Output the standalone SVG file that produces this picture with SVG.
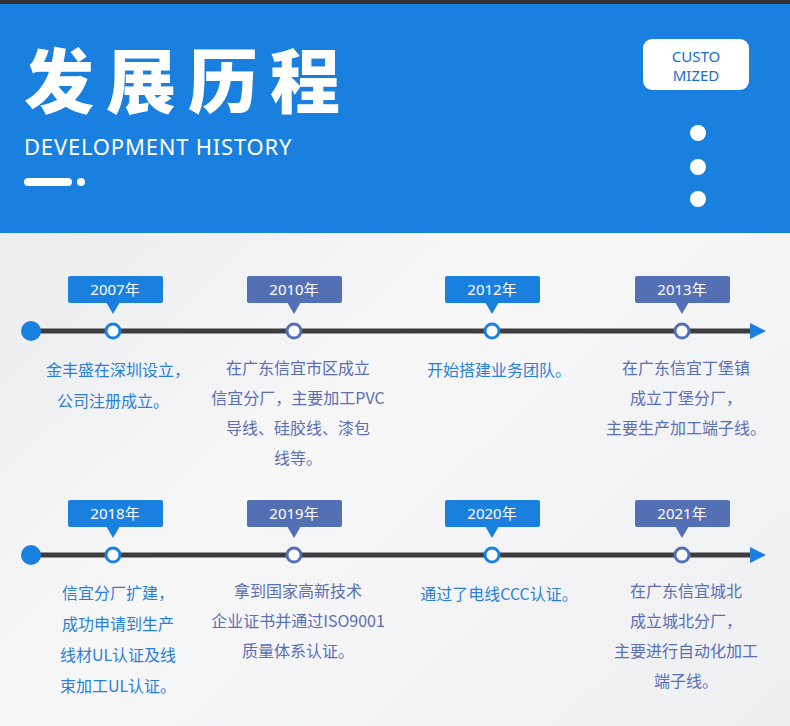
<svg xmlns="http://www.w3.org/2000/svg" width="790" height="726" viewBox="0 0 790 726">
<defs>
<style>
.cn{font-family:"Noto Sans CJK SC","Noto Sans",sans-serif;font-size:16px;text-anchor:middle}
.b{fill:#2a7fd8}.p{fill:#5a6fb4}
.lb{font-family:"Noto Sans","Noto Sans CJK SC",sans-serif;font-size:15px;fill:#fff;text-anchor:middle}
.ln{stroke:#3c3c3c;stroke-width:5}
</style>
<linearGradient id="bg" x1="0" y1="0" x2="1" y2="1"><stop offset="0" stop-color="#e6e7ea"/><stop offset="0.5" stop-color="#f7f7f8"/><stop offset="1" stop-color="#eeeff1"/></linearGradient>
</defs>
<rect width="790" height="726" fill="url(#bg)"/>
<g id="header">
<rect width="790" height="233" fill="#1a80df"/>
<rect width="790" height="4" fill="#333"/>
<text x="24" y="108" font-family="Noto Sans CJK SC,sans-serif" font-weight="900" font-size="70" fill="#fff" letter-spacing="12">发展历程</text>
<text x="24" y="155" font-family="Noto Sans,sans-serif" font-size="22" fill="#fff" letter-spacing="0.8">DEVELOPMENT HISTORY</text>
<rect x="24" y="178" width="48" height="8" rx="4" fill="#fff"/><circle cx="81" cy="182" r="4" fill="#fff"/>
<rect x="643" y="39" width="106" height="51" rx="9" fill="#fff"/>
<text x="696" y="62" font-family="Noto Sans,sans-serif" font-size="15" fill="#1a6fc9" text-anchor="middle">CUSTO</text>
<text x="696" y="81" font-family="Noto Sans,sans-serif" font-size="15" fill="#1a6fc9" text-anchor="middle">MIZED</text>
<circle cx="698" cy="133" r="8" fill="#fff"/><circle cx="698" cy="167" r="8" fill="#fff"/><circle cx="698" cy="199" r="8" fill="#fff"/>
</g>
<g id="connectors">
<line class="ln" x1="32" y1="331" x2="752" y2="331"/><polygon points="750,323 766,331 750,339" fill="#1a80df"/>
<line class="ln" x1="32" y1="555" x2="752" y2="555"/><polygon points="750,547 766,555 750,563" fill="#1a80df"/>
<circle cx="31" cy="331" r="10" fill="#1a80df"/><circle cx="31" cy="555" r="10" fill="#1a80df"/>
</g>
<g id="n2007"><rect x="68" y="276" width="95" height="27" rx="2" fill="#1a80df"/><polygon points="106,302 120,302 113,314" fill="#1a80df"/><text class="lb" x="115" y="295">2007年</text><circle cx="113" cy="331" r="7" fill="#fff" stroke="#1a80df" stroke-width="3"/><text class="cn b" x="118" y="376">金丰盛在深圳设立，</text><text class="cn b" x="113" y="407">公司注册成立。</text></g>
<g id="n2010"><rect x="247" y="276" width="95" height="27" rx="2" fill="#5470b5"/><polygon points="287,302 301,302 294,314" fill="#5470b5"/><text class="lb" x="294" y="295">2010年</text><circle cx="294" cy="331" r="7" fill="#fff" stroke="#5470b5" stroke-width="3"/><text class="cn p" x="298" y="374">在广东信宜市区成立</text><text class="cn p" x="298" y="404">信宜分厂，主要加工PVC</text><text class="cn p" x="298" y="434">导线、硅胶线、漆包</text><text class="cn p" x="298" y="464">线等。</text></g>
<g id="n2012"><rect x="445" y="276" width="95" height="27" rx="2" fill="#1a80df"/><polygon points="485,302 499,302 492,314" fill="#1a80df"/><text class="lb" x="492" y="295">2012年</text><circle cx="492" cy="331" r="7" fill="#fff" stroke="#1a80df" stroke-width="3"/><text class="cn b" x="499" y="376">开始搭建业务团队。</text></g>
<g id="n2013"><rect x="635" y="276" width="95" height="27" rx="2" fill="#5470b5"/><polygon points="675,302 689,302 682,314" fill="#5470b5"/><text class="lb" x="682" y="295">2013年</text><circle cx="682" cy="331" r="7" fill="#fff" stroke="#5470b5" stroke-width="3"/><text class="cn p" x="686" y="374">在广东信宜丁堡镇</text><text class="cn p" x="686" y="404">成立丁堡分厂，</text><text class="cn p" x="686" y="434">主要生产加工端子线。</text></g>
<g id="n2018"><rect x="68" y="500" width="95" height="27" rx="2" fill="#1a80df"/><polygon points="106,526 120,526 113,538" fill="#1a80df"/><text class="lb" x="115" y="519">2018年</text><circle cx="113" cy="555" r="7" fill="#fff" stroke="#1a80df" stroke-width="3"/><text class="cn b" x="118" y="599">信宜分厂扩建，</text><text class="cn b" x="118" y="630">成功申请到生产</text><text class="cn b" x="118" y="661">线材UL认证及线</text><text class="cn b" x="118" y="692">束加工UL认证。</text></g>
<g id="n2019"><rect x="247" y="500" width="95" height="27" rx="2" fill="#5470b5"/><polygon points="287,526 301,526 294,538" fill="#5470b5"/><text class="lb" x="294" y="519">2019年</text><circle cx="294" cy="555" r="7" fill="#fff" stroke="#5470b5" stroke-width="3"/><text class="cn p" x="298" y="597">拿到国家高新技术</text><text class="cn p" x="298" y="627">企业证书并通过ISO9001</text><text class="cn p" x="298" y="657">质量体系认证。</text></g>
<g id="n2020"><rect x="445" y="500" width="95" height="27" rx="2" fill="#1a80df"/><polygon points="485,526 499,526 492,538" fill="#1a80df"/><text class="lb" x="492" y="519">2020年</text><circle cx="492" cy="555" r="7" fill="#fff" stroke="#1a80df" stroke-width="3"/><text class="cn b" x="499" y="600">通过了电线CCC认证。</text></g>
<g id="n2021"><rect x="635" y="500" width="95" height="27" rx="2" fill="#5470b5"/><polygon points="675,526 689,526 682,538" fill="#5470b5"/><text class="lb" x="682" y="519">2021年</text><circle cx="682" cy="555" r="7" fill="#fff" stroke="#5470b5" stroke-width="3"/><text class="cn p" x="686" y="597">在广东信宜城北</text><text class="cn p" x="686" y="627">成立城北分厂，</text><text class="cn p" x="686" y="657">主要进行自动化加工</text><text class="cn p" x="686" y="687">端子线。</text></g>
</svg>
